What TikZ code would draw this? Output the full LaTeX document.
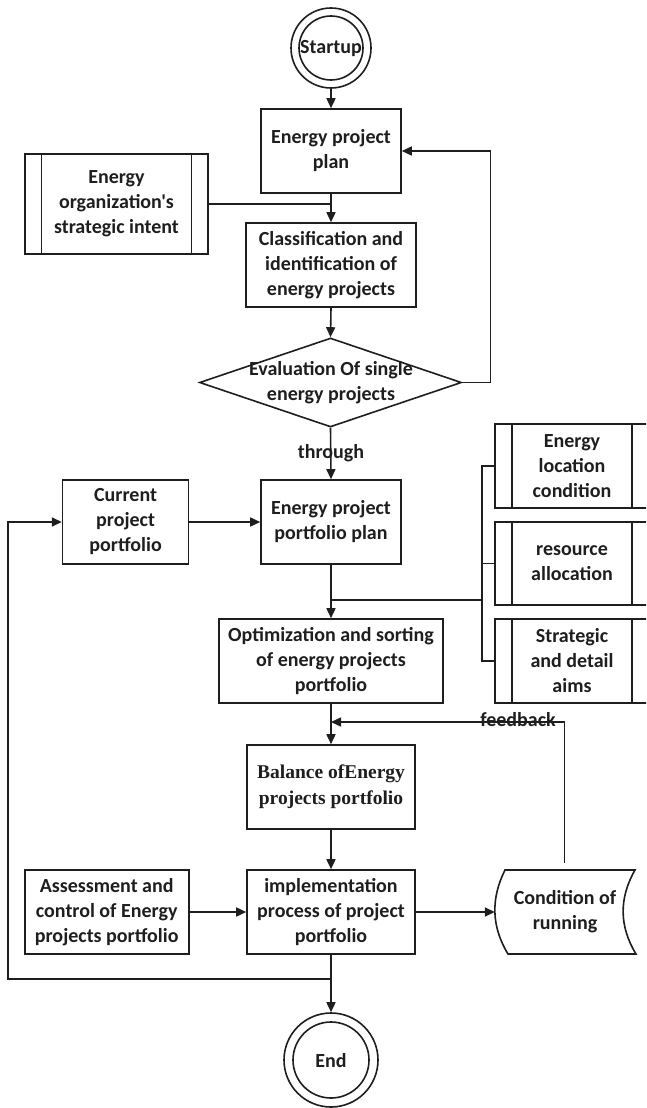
\documentclass[tikz,border=0pt]{standalone}
\usepackage{fontspec}
\setmainfont{Carlito}[Ligatures=TeXOff]
\newfontfamily\timesface{Liberation Serif}
\usetikzlibrary{arrows.meta,shapes.geometric}
\definecolor{ink}{HTML}{1E1E1E}
\begin{document}
\begin{tikzpicture}[x=1pt,y=-1pt,
  every node/.style={font=\fontsize{20}{25}\selectfont\bfseries, text=ink, align=center, inner sep=0pt},
  box/.style={draw=ink, line width=1.6pt, rectangle, minimum width=#1},
  box/.default=140pt,
  proc/.style={draw=ink, line width=1.6pt, rectangle,
    path picture={
      \draw[ink, line width=1.6pt] ([xshift=#1]path picture bounding box.north west) -- ([xshift=#1]path picture bounding box.south west);
      \draw[ink, line width=1.6pt] ([xshift=-#1]path picture bounding box.north east) -- ([xshift=-#1]path picture bounding box.south east);
    }},
  term/.style={draw=ink, line width=1.6pt, circle},
  link/.style={draw=ink, line width=1.6pt},
  arr/.style={link, -{Triangle[length=10pt,width=9pt]}},
  lbl/.style={font=\fontsize{20}{25}\selectfont\bfseries}
]
\useasboundingbox (0,0) rectangle (646,1108);
\clip (0,0) rectangle (646,1108);

% start and end terminals (double rings)
\node[term, minimum size=80pt] (start) at (331,48) {};
\draw[link] (start.center) circle[radius=32pt];
\node (starttxt) at (331,49) {Startup};

\node[term, minimum size=94pt] (end) at (331,1060) {};
\draw[link] (end.center) circle[radius=38pt];
\node (endtxt) at (331,1061) {End};

% main process boxes
\node[box, minimum height=84pt] (plan) at (331,151) {Energy project\\plan};
\node[proc=16.5pt, minimum width=183pt, minimum height=100pt] (intent) at (116.5,204)
  {Energy\\organization's\\strategic intent};
\node[box=170pt, minimum height=84pt] (classif) at (331,265)
  {Classification and\\identification of\\energy projects};
\node[draw=ink, line width=1.6pt, diamond, minimum width=262pt, minimum height=89pt] (eval) at (330.5,382.5) {};
\node (evaltxt) at (331,383) {Evaluation Of single\\energy projects};
\node[box, minimum height=84pt] (pplan) at (331,522) {Energy project\\portfolio plan};
\node[box=126pt, minimum height=84pt] (cur) at (125.6,522) {Current\\project\\portfolio};

% side inputs
\node[proc=17pt, minimum width=154pt, minimum height=84pt] (r1) at (572,466) {Energy\\location\\condition};
\node[proc=17pt, minimum width=154pt, minimum height=83pt] (r2) at (572,563.5) {resource\\allocation};
\node[proc=17pt, minimum width=154pt, minimum height=84pt] (r3) at (572,661) {Strategic\\and detail\\aims};

\node[box=224pt, minimum height=84pt] (opt) at (331,661)
  {Optimization and sorting\\of energy projects\\portfolio};
\node[box=168pt, minimum height=84pt, font=\timesface\fontsize{19.5}{26}\selectfont\bfseries] (bal) at (331,787)
  {Balance ofEnergy\\projects portfolio};
\node[box=168pt, minimum height=84pt] (impl) at (331,912)
  {implementation\\process of project\\portfolio};
\node[box=164pt, minimum height=84pt] (assess) at (106.7,912)
  {Assessment and\\control of Energy\\projects portfolio};

% stored-data shape for the running condition
\node[minimum width=140pt, minimum height=84pt] (cond) at (565,912) {Condition of\\running};
\draw[link] (505,870) -- (635,870)
  .. controls (619,898) and (619,926) .. (636,954)
  -- (508,954)
  .. controls (491,926) and (491,898) .. (505,870) -- cycle;

% connectors
\draw[arr] (start.south) -- (plan.north);
\draw[arr] (plan.south) -- (classif.north);
\draw[link] (intent.east) -- (intent.east -| plan.south);
\draw[arr] (classif.south) -- (eval.north);
\draw[arr] (eval.east) -- ++(28,0) |- (plan.east);
\draw[arr] (eval.south) -- (pplan.north);
\node[lbl] (through) at (331,453) {through};
\draw[arr] (cur.east) -- (pplan.west);

% bracket joining the side inputs
\coordinate (brk) at (482,600);
\draw[arr] (pplan.south) -- (opt.north);
\draw[link] (brk) -- (brk -| pplan.south);
\draw[link] (r1.west) -- (r1.west -| brk) -- (r3.west -| brk) -- (r3.west);
\draw[link] (r2.west) -- (r2.west -| brk);

\draw[arr] (opt.south) -- (bal.north);
\coordinate (fbfoot) at (564.5,862.5);
\coordinate (fbjoin) at (331,722);
\draw[arr] (fbfoot) |- (fbjoin);
\node[lbl] (feedback) at (518,720) {feedback};

\draw[arr] (bal.south) -- (impl.north);
\draw[arr] (assess.east) -- (impl.west);
\draw[arr] (impl.east) -- (cond.west);
\draw[arr] (impl.south) -- (end.north);

% loop back to the current portfolio
\coordinate (endjoin) at (331,979);
\draw[arr] (endjoin) -- (8,979) |- (cur.west);
\end{tikzpicture}
\end{document}
